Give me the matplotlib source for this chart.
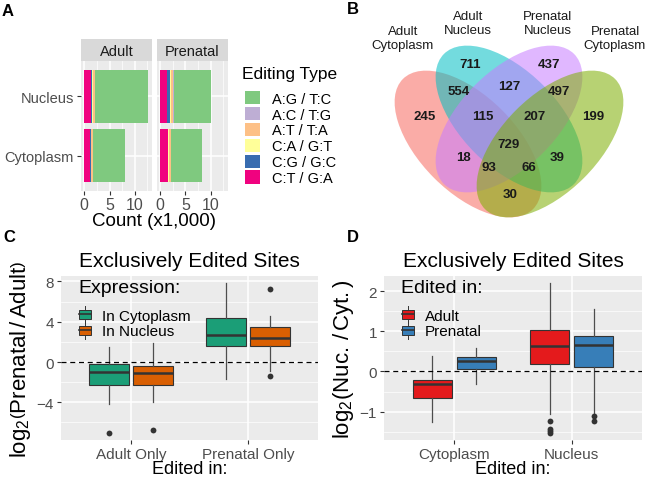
import matplotlib
matplotlib.use('Agg')
import matplotlib.pyplot as plt
from matplotlib.patches import Ellipse, Patch, Rectangle
from matplotlib.lines import Line2D
from matplotlib.legend_handler import HandlerBase
import numpy as np

plt.rcParams['font.family'] = ['Liberation Sans', 'DejaVu Sans']
plt.rcParams['mathtext.fontset'] = 'custom'
plt.rcParams['mathtext.rm'] = 'Liberation Sans'
plt.rcParams['mathtext.it'] = 'Liberation Sans:italic'
plt.rcParams['mathtext.bf'] = 'Liberation Sans:bold'

# ---------------- Data ----------------
# Panel A: counts (x1,000), order [Cytoplasm, Nucleus]
compartments = ['Cytoplasm', 'Nucleus']
facets = ['Adult', 'Prenatal']
edit_types = ['A:G / T:C', 'A:C / T:G', 'A:T / T:A', 'C:A / G:T', 'C:G / G:C', 'C:T / G:A']
edit_colors = ['#7FC97F', '#BEAED4', '#FDC086', '#FFFF99', '#386CB0', '#F0027F']
adult_AG = [6.34, 10.50]
adult_AC = [0.06, 0.10]
adult_AT = [0.28, 0.45]
adult_CA = [0.12, 0.15]
adult_CG = [0.06, 0.10]
adult_CT = [1.24, 1.40]
prenatal_AG = [6.04, 7.27]
prenatal_AC = [0.05, 0.10]
prenatal_AT = [0.27, 0.50]
prenatal_CA = [0.22, 0.20]
prenatal_CG = [0.12, 0.50]
prenatal_CT = [1.50, 1.43]

# Panel B: Venn regions (A=Adult Cyto, B=Adult Nuc, C=Prenatal Nuc, D=Prenatal Cyto)
venn_sets = ['Adult\nCytoplasm', 'Adult\nNucleus', 'Prenatal\nNucleus', 'Prenatal\nCytoplasm']
venn_regions = ['A', 'B', 'C', 'D', 'AB', 'BC', 'CD', 'AD', 'AC', 'BD',
                'ABC', 'BCD', 'ACD', 'ABD', 'ABCD']
venn_counts = [245, 711, 437, 199, 554, 127, 497, 30, 18, 39, 115, 207, 93, 66, 729]

# Panel C: box stats, log2(Prenatal/Adult)
c_categories = ['Adult Only', 'Prenatal Only']
c_groups = ['In Cytoplasm', 'In Nucleus']
c_colors = ['#1B9E77', '#D95F02']
c_cyto_whislo = [-4.2, -1.7]
c_cyto_q1 = [-2.25, 1.6]
c_cyto_med = [-1.0, 2.7]
c_cyto_q3 = [-0.2, 4.4]
c_cyto_whishi = [1.5, 7.8]
c_cyto_fliers = [[-7.0], []]
c_nuc_whislo = [-4.0, -0.87]
c_nuc_q1 = [-2.25, 1.6]
c_nuc_med = [-1.1, 2.4]
c_nuc_q3 = [-0.4, 3.5]
c_nuc_whishi = [1.9, 4.6]
c_nuc_fliers = [[-6.7], [7.2, -1.37]]

# Panel D: box stats, log2(Nuc./Cyt.)
d_categories = ['Cytoplasm', 'Nucleus']
d_groups = ['Adult', 'Prenatal']
d_colors = ['#E41A1C', '#377EB8']
d_adult_whislo = [-1.26, -1.05]
d_adult_q1 = [-0.67, 0.18]
d_adult_med = [-0.30, 0.63]
d_adult_q3 = [-0.21, 1.04]
d_adult_whishi = [0.38, 2.19]
d_adult_fliers = [[], [-1.24, -1.44, -1.49, -1.52]]
d_pren_whislo = [-0.31, -1.05]
d_pren_q1 = [0.06, 0.12]
d_pren_med = [0.25, 0.65]
d_pren_q3 = [0.37, 0.89]
d_pren_whishi = [0.59, 1.55]
d_pren_fliers = [[], [-1.12, -1.24]]

# ---------------- Helpers ----------------
W, H = 664, 485
fig = plt.figure(figsize=(W / 100, H / 100), dpi=100)
PANEL_BG = '#EBEBEB'
TICK_C = '#4D4D4D'


def px_axes(left, top, right, bottom):
    return fig.add_axes([left / W, (H - bottom) / H, (right - left) / W, (bottom - top) / H])


def gg_style(ax, fs=10):
    ax.set_facecolor(PANEL_BG)
    for s in ax.spines.values():
        s.set_visible(False)
    ax.tick_params(axis='both', which='major', length=3, width=0.8, color='#333333',
                   labelsize=fs, labelcolor=TICK_C, pad=2)
    ax.tick_params(axis='both', which='minor', length=0)
    ax.grid(True, which='major', color='white', linewidth=1.1)
    ax.grid(True, which='minor', color='white', linewidth=0.5)
    ax.set_axisbelow(True)


class BoxHandler(HandlerBase):
    def create_artists(self, legend, orig_handle, xdescent, ydescent, width, height, fontsize, trans):
        fc = orig_handle.get_facecolor()
        x0 = -xdescent
        y0 = -ydescent
        cx = x0 + width / 2
        rect = Rectangle((x0 + width * 0.05, y0 + height * 0.2), width * 0.9, height * 0.6,
                         facecolor=fc, edgecolor='#333333', linewidth=0.7, transform=trans)
        l1 = Line2D([cx, cx], [y0 - height * 0.08, y0 + height * 0.2], color='#333333', lw=0.7, transform=trans)
        l2 = Line2D([cx, cx], [y0 + height * 0.8, y0 + height * 1.08], color='#333333', lw=0.7, transform=trans)
        l3 = Line2D([x0 + width * 0.05, x0 + width * 0.95], [y0 + height / 2] * 2, color='#333333', lw=1.2, transform=trans)
        return [rect, l1, l2, l3]


# ---------------- Panel A ----------------
ypos = np.arange(1, len(compartments) + 1)
adult_stack = [adult_CT, adult_CG, adult_CA, adult_AT, adult_AC, adult_AG]
pren_stack = [prenatal_CT, prenatal_CG, prenatal_CA, prenatal_AT, prenatal_AC, prenatal_AG]
stack_colors = edit_colors[::-1]
panel_px = [(81, 151.7), (156.7, 227.7)]
xmax = max(np.sum(adult_stack, axis=0).max(), np.sum(pren_stack, axis=0).max())
for i, (stack, name) in enumerate(zip([adult_stack, pren_stack], facets)):
    l, r = panel_px[i]
    ax = px_axes(l, 62, r, 192)
    gg_style(ax, fs=10.5)
    left = np.zeros(len(compartments))
    for vals, col in zip(stack, stack_colors):
        ax.barh(ypos, vals, left=left, height=0.9, color=col, linewidth=0)
        left = left + np.array(vals)
    ax.set_xlim(-0.05 * xmax, xmax * 1.05)
    ax.set_ylim(0.4, len(compartments) + 0.6)
    ax.set_xticks([0, 5, 10])
    ax.set_xticks([2.5, 7.5, 12.5], minor=True)
    ax.set_yticks(ypos)
    ax.tick_params(axis='x', labelsize=11.5, pad=1)
    if i == 0:
        ax.set_yticklabels(compartments, fontsize=10.5)
    else:
        ax.set_yticklabels([])
        ax.tick_params(axis='y', length=0)
    sax = px_axes(l, 40, r, 62)
    sax.set_facecolor('#D9D9D9')
    sax.set_xticks([]); sax.set_yticks([])
    for s in sax.spines.values():
        s.set_visible(False)
    sax.text(0.5, 0.45, name, ha='center', va='center', fontsize=10.5, color='#1A1A1A',
             transform=sax.transAxes)
fig.text(154 / W, 1 - 222 / H, 'Count (x1,000)', ha='center', va='center', fontsize=13.5)

handles_a = [Patch(facecolor=c, edgecolor='none') for c in edit_colors]
fig.text(242 / W, 1 - 75 / H, 'Editing Type', ha='left', va='center', fontsize=12.5)
fig.legend(handles_a, edit_types, loc='upper left', bbox_to_anchor=(242 / W, 1 - 89 / H),
           frameon=False, fontsize=10.5, borderaxespad=0,
           handlelength=1.0, handleheight=1.05, labelspacing=0.08, handletextpad=0.85,
           borderpad=0.2)

# ---------------- Panel B ----------------
bax = fig.add_axes([340 / W, (H - 230) / H, 324 / W, 230 / H])
bax.set_xlim(340, 664)
bax.set_ylim(H - 230, H)
bax.axis('off')


def yu(y):
    return H - y


ell_specs = [((468, 145), -45, '#F8766D', 0.6),
             ((509, 120), -45, '#00BFC4', 0.55),
             ((509, 120), 45, '#C77CFF', 0.55),
             ((550, 145), 45, '#7CAE00', 0.55)]
for (cx, cy), ang, col, al in ell_specs:
    bax.add_patch(Ellipse((cx, yu(cy)), 184, 96, angle=ang, facecolor=col, alpha=al,
                          edgecolor='none'))
set_label_pos = [(403, 39), (468, 24), (548, 24), (615, 39)]
for name, (x, y) in zip(venn_sets, set_label_pos):
    bax.text(x, yu(y), name, ha='center', va='center', fontsize=9.5, color='#1A1A1A',
             linespacing=1.25)
region_pos = {'A': (425, 117), 'B': (470, 65), 'C': (549, 65), 'D': (593, 117),
              'AB': (459, 92), 'BC': (509, 87), 'CD': (559, 92), 'AD': (510, 195),
              'AC': (463, 158), 'BD': (557, 158), 'ABC': (483, 117), 'BCD': (535, 117),
              'ACD': (489, 168), 'ABD': (529, 168), 'ABCD': (509, 145)}
for reg, cnt in zip(venn_regions, venn_counts):
    x, y = region_pos[reg]
    bax.text(x, yu(y), str(cnt), ha='center', va='center', fontsize=9.5,
             fontweight='bold', color='#1A1A1A')


# ---------------- Box panels ----------------
def make_stats(whislo, q1, med, q3, whishi, fliers):
    return [dict(whislo=a, q1=b, med=c, q3=d, whishi=e, fliers=f)
            for a, b, c, d, e, f in zip(whislo, q1, med, q3, whishi, fliers)]


def box_panel(ax, cats, groups, colors, stats_list, ylims_data, title, ylabel,
              major, minor, labels, legend_title, ylab_x, px_left, px_right, px_bottom):
    gg_style(ax, fs=10.5)
    pos = np.arange(1, len(cats) + 1)
    offs = [-0.1875, 0.1875]
    for st, col, off in zip(stats_list, colors, offs):
        ax.bxp(st, positions=pos + off, widths=0.3375, patch_artist=True, showcaps=False,
               boxprops=dict(facecolor=col, edgecolor='#333333', linewidth=0.8),
               medianprops=dict(color='#333333', linewidth=1.8),
               whiskerprops=dict(color='#4D4D4D', linewidth=0.9),
               flierprops=dict(marker='o', markerfacecolor='#333333', markeredgecolor='none',
                               markersize=4.2),
               zorder=3)
    lo, hi = ylims_data
    span = hi - lo
    ax.set_ylim(lo - 0.05 * span, hi + 0.05 * span)
    ax.set_xlim(0.4, len(cats) + 0.6)
    ax.axhline(0, color='black', linestyle=(0, (4, 3)), linewidth=0.9, zorder=4)
    ax.set_xticks(pos)
    ax.set_xticklabels(cats, fontsize=11)
    ax.set_yticks(major)
    ax.set_yticklabels(labels, fontsize=11)
    ax.set_yticks(minor, minor=True)
    ax.set_title(title, fontsize=15, pad=7)
    ax.set_xlabel('Edited in:', fontsize=13)
    ax.xaxis.set_label_coords(0.5, -0.125)
    ax.xaxis.label.set_va('top')
    ax.set_ylabel(ylabel, fontsize=16)
    ax.yaxis.set_label_coords(ylab_x, 0.5)
    aw, ah = float(px_right - px_left), 164.0

    def fx(px):
        return (px - px_left) / aw

    def fy(py):
        return (px_bottom - py) / ah
    ax.text(fx(px_left + 17), fy(289), legend_title, ha='left', va='center', fontsize=14,
            transform=ax.transAxes, zorder=5)
    handles = [Patch(facecolor=c) for c in colors]
    ax.legend(handles, groups, handler_map={Patch: BoxHandler()}, loc='upper left',
              bbox_to_anchor=(fx(px_left + 13.5), fy(304)), frameon=False, borderaxespad=0,
              fontsize=11, handlelength=0.85, handleheight=1.15,
              labelspacing=0.0, handletextpad=0.7, borderpad=0.25)


cax = px_axes(61, 277, 318, 441)
c_stats = [make_stats(c_cyto_whislo, c_cyto_q1, c_cyto_med, c_cyto_q3, c_cyto_whishi, c_cyto_fliers),
           make_stats(c_nuc_whislo, c_nuc_q1, c_nuc_med, c_nuc_q3, c_nuc_whishi, c_nuc_fliers)]
box_panel(cax, c_categories, c_groups, c_colors, c_stats, (-7.0, 7.8),
          'Exclusively Edited Sites',
          r'$\mathrm{log}_2\left(\mathrm{Prenatal}\,/\,\mathrm{Adult}\right)$',
          [-4, 0, 4, 8], [-6, -2, 2, 6], ['\u22124', '0', '4', '8'], 'Expression:', -0.108,
          61, 318, 441)

dax = px_axes(384, 277, 642, 441)
d_stats = [make_stats(d_adult_whislo, d_adult_q1, d_adult_med, d_adult_q3, d_adult_whishi, d_adult_fliers),
           make_stats(d_pren_whislo, d_pren_q1, d_pren_med, d_pren_q3, d_pren_whishi, d_pren_fliers)]
box_panel(dax, d_categories, d_groups, d_colors, d_stats, (-1.52, 2.19),
          'Exclusively Edited Sites',
          r'$\mathrm{log}_2\left(\mathrm{Nuc.}\,/\,\mathrm{Cyt.}\right)$',
          [-1, 0, 1, 2], [-1.5, -0.5, 0.5, 1.5], ['\u22121', '0', '1', '2'], 'Edited in:', -0.11,
          384, 642, 441)

# Panel letters
for letter, (x, y) in zip('ABCD', [(2, 12), (347, 10), (3, 238), (347, 238)]):
    fig.text(x / W, 1 - y / H, letter, fontsize=12, fontweight='bold', va='center', ha='left')

fig.savefig('out.png', dpi=100)
